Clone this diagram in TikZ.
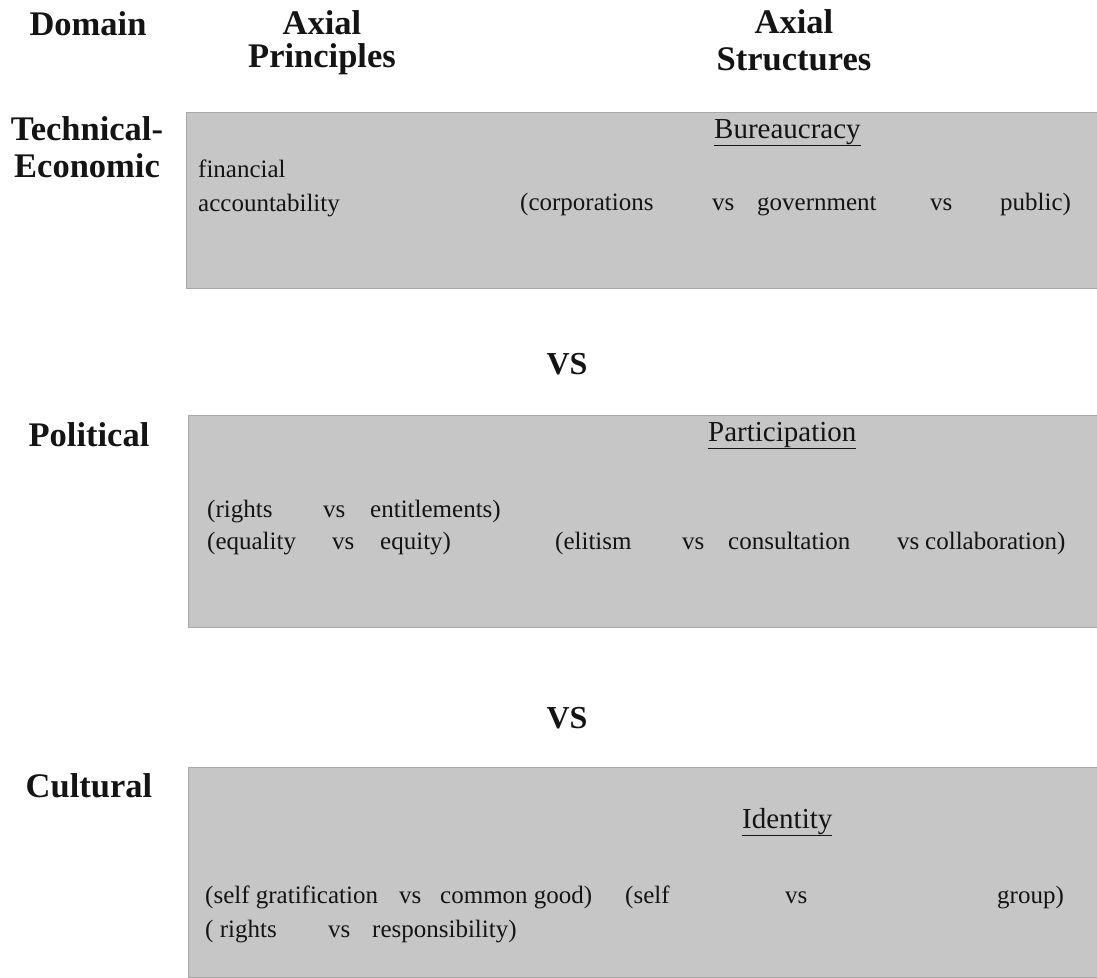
\documentclass[tikz,border=0pt]{standalone}
\usepackage{fontspec}
\setmainfont{Liberation Serif}
\definecolor{boxgray}{RGB}{198,198,198}
\definecolor{ink}{RGB}{20,20,20}
\begin{document}
\begin{tikzpicture}[x=1pt,y=-1pt,
  hdr/.style={font=\fontsize{34.5}{37}\selectfont\bfseries, inner sep=0pt, anchor=base, text=ink},
  vslabel/.style={font=\fontsize{32}{34}\selectfont\bfseries, inner sep=0pt, anchor=base, text=ink},
  txt/.style={font=\fontsize{25}{28}\selectfont, inner sep=0pt, anchor=base west, text=ink},
  ttl/.style={font=\fontsize{29}{31}\selectfont, inner sep=0pt, anchor=base west, text=ink},
  band/.style={fill=boxgray, draw=boxgray!85!black, line width=0.6pt}]
\useasboundingbox (0,0) rectangle (1097,977);
\fill[white] (0,0) rectangle (1097,977);

% headers
\node[hdr] (hdom) at (88,35) {Domain};
\node[hdr] (hap1) at (322,34) {Axial};
\node[hdr] (hap2) at (322,67) {Principles};
\node[hdr] (has1) at (794,33) {Axial};
\node[hdr] (has2) at (794,70) {Structures};

% domain labels
\node[hdr] (dte1) at (87,140) {Technical-};
\node[hdr] (dte2) at (87,177) {Economic};
\node[hdr] (dpol) at (89,446) {Political};
\node[hdr] (dcul) at (89,797) {Cultural};

% bands
\path[band] (186,112) rectangle (1097,288);
\path[band] (188,415) rectangle (1097,627);
\path[band] (188,767) rectangle (1097,977);

% separators
\node[vslabel] (vs1) at (567,374) {VS};
\node[vslabel] (vs2) at (567,728) {VS};

% box 1
\node[ttl] (bur) at (714,138) {\underline{Bureaucracy}};
\node[txt] (fin1) at (198,177) {financial};
\node[txt] (fin2) at (198,211) {accountability};
\node[txt] (b1a) at (520,210) {(corporations};
\node[txt] (b1b) at (712,210) {vs};
\node[txt] (b1c) at (757,210) {government};
\node[txt] (b1d) at (930,210) {vs};
\node[txt] (b1e) at (1000,210) {public)};

% box 2
\node[ttl] (par) at (708,441) {\underline{Participation}};
\node[txt] (p1a) at (207,517) {(rights};
\node[txt] (p1b) at (323,517) {vs};
\node[txt] (p1c) at (370,517) {entitlements)};
\node[txt] (p2a) at (207,549) {(equality};
\node[txt] (p2b) at (332,549) {vs};
\node[txt] (p2c) at (380,549) {equity)};
\node[txt] (p2d) at (555,549) {(elitism};
\node[txt] (p2e) at (682,549) {vs};
\node[txt] (p2f) at (728,549) {consultation};
\node[txt] (p2g) at (897,549) {vs};
\node[txt] (p2h) at (925,549) {collaboration)};

% box 3
\node[ttl] (idn) at (742,828) {\underline{Identity}};
\node[txt] (c1a) at (205,903) {(self gratification};
\node[txt] (c1b) at (399,903) {vs};
\node[txt] (c1c) at (440,903) {common good)};
\node[txt] (c1d) at (625,903) {(self};
\node[txt] (c1e) at (785,903) {vs};
\node[txt] (c1f) at (997,903) {group)};
\node[txt] (c2a) at (205,937) {( rights};
\node[txt] (c2b) at (328,937) {vs};
\node[txt] (c2c) at (372,937) {responsibility)};
\end{tikzpicture}
\end{document}
